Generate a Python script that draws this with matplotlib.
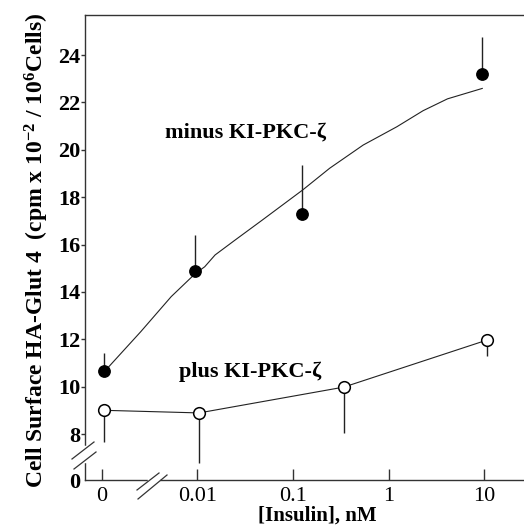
import matplotlib
matplotlib.use("Agg")
import matplotlib.pyplot as plt

# ---- data ----
# x value 0.001 stands for the "0" insulin position on the broken log axis
minus_x = [0.00105, 0.0095, 0.123, 9.6]
minus_y = [10.66, 14.88, 17.27, 23.2]
minus_err_up = [0.75, 1.52, 2.09, 1.57]

minus_fit_x = [0.00118, 0.00255, 0.00531, 0.00953, 0.0119, 0.0153, 0.0248,
               0.0476, 0.126, 0.242, 0.543, 1.22, 2.3, 4.14, 9.57]
minus_fit_y = [10.84, 12.32, 13.80, 14.78, 15.06, 15.56, 16.19,
               17.03, 18.30, 19.22, 20.20, 20.97, 21.65, 22.15, 22.59]

plus_x = [0.00106, 0.0104, 0.34, 10.8]
plus_y = [9.0, 8.89, 9.98, 11.97]
plus_err_down = [1.33, 2.13, 1.95, 0.68]

xticks = [0.001, 0.01, 0.1, 1, 10]
xticklabels = ["0", "0.01", "0.1", "1", "10"]
yticks = [8, 10, 12, 14, 16, 18, 20, 22, 24]
y_zero_pos = 6.058

plt.rcParams['font.family'] = ['Liberation Serif', 'DejaVu Serif']
plt.rcParams['mathtext.fontset'] = 'custom'
plt.rcParams['mathtext.rm'] = 'Liberation Serif:bold'
plt.rcParams['mathtext.bf'] = 'Liberation Serif:bold'
plt.rcParams['mathtext.it'] = 'Liberation Serif:bold'

fig = plt.figure(figsize=(5.24, 5.27), dpi=100)
ax = fig.add_axes([85/524, 1-480/527, 1.0 - 85/524 + 0.01, (480-15)/527])

ax.set_xscale('log')
ax.set_xlim(0.000665, 29.7)
ax.set_ylim(y_zero_pos, 25.69)

lc = '#222222'
# fitted curve for minus
ax.plot(minus_fit_x, minus_fit_y, color=lc, lw=0.8, zorder=2)
# plus connecting line
ax.plot(plus_x, plus_y, color=lc, lw=0.8, zorder=2)

ax.errorbar(minus_x, minus_y, yerr=[[0]*len(minus_y), minus_err_up], fmt='none',
            ecolor=lc, elinewidth=1.0, capsize=0, zorder=2)
ax.errorbar(plus_x, plus_y, yerr=[plus_err_down, [0]*len(plus_y)], fmt='none',
            ecolor=lc, elinewidth=1.0, capsize=0, zorder=2)

ax.plot(minus_x, minus_y, 'o', ms=8.2, mfc='black', mec='black', mew=1, ls='none', zorder=4)
ax.plot(plus_x, plus_y, 'o', ms=8.4, mfc='white', mec='black', mew=1.1, ls='none', zorder=4)

# axes styling
ax.spines['right'].set_visible(False)
for s in ['left', 'bottom', 'top']:
    ax.spines[s].set_linewidth(1.0)
    ax.spines[s].set_color('#333333')

ax.set_xticks(xticks)
ax.set_xticklabels(xticklabels)
ax.xaxis.set_minor_locator(matplotlib.ticker.NullLocator())
ax.tick_params(axis='x', direction='in', length=8, width=1, pad=5, labelsize=16,
               color='#333333', top=False)
for lab in ax.get_xticklabels():
    lab.set_fontweight('normal')

ax.set_yticks([y_zero_pos] + yticks)
ax.set_yticklabels(["0"] + [str(v) for v in yticks])
ax.tick_params(axis='y', direction='out', length=3, width=1, pad=0.5, labelsize=16,
               color='#333333')
for lab in ax.get_yticklabels():
    lab.set_fontweight('bold')
ax.yaxis.get_major_ticks()[0].tick1line.set_visible(False)

bk = dict(color='#333333', lw=0.9, clip_on=False, transform=fig.transFigure)
def px(x, y):
    return x/524, 1 - y/527
# break on y axis
ax.plot(*zip(px(85, 447), px(85, 461)), color='white', lw=2.5, clip_on=False,
        transform=fig.transFigure, zorder=5)
ax.plot(*zip(px(72, 459), px(94, 442)), zorder=6, **bk)
ax.plot(*zip(px(74, 469), px(96, 452)), zorder=6, **bk)
# break on x axis
ax.plot(*zip(px(149, 480), px(158, 480)), color='white', lw=2.5, clip_on=False,
        transform=fig.transFigure, zorder=5)
ax.plot(*zip(px(137, 490), px(159, 473)), zorder=6, **bk)
ax.plot(*zip(px(138, 499), px(167, 475)), zorder=6, **bk)

# series labels
ax.text(0.362, 0.747, "minus KI-PKC-ζ", transform=ax.transAxes, ha='center', va='center',
        fontsize=16, fontweight='bold')
ax.text(0.372, 0.233, "plus KI-PKC-ζ", transform=ax.transAxes, ha='center', va='center',
        fontsize=16, fontweight='bold')

fig.text(37/524, 1-250/527,
         "Cell Surface HA-Glut 4  (cpm x 10$^{-2}$ / 10$^{6}$Cells)",
         rotation=90, ha='center', va='center', fontsize=17, fontweight='bold')
fig.text(317/524, 1-506/527, "[Insulin], nM", ha='center', va='top',
         fontsize=15, fontweight='bold')

fig.savefig("out.png", dpi=100)
